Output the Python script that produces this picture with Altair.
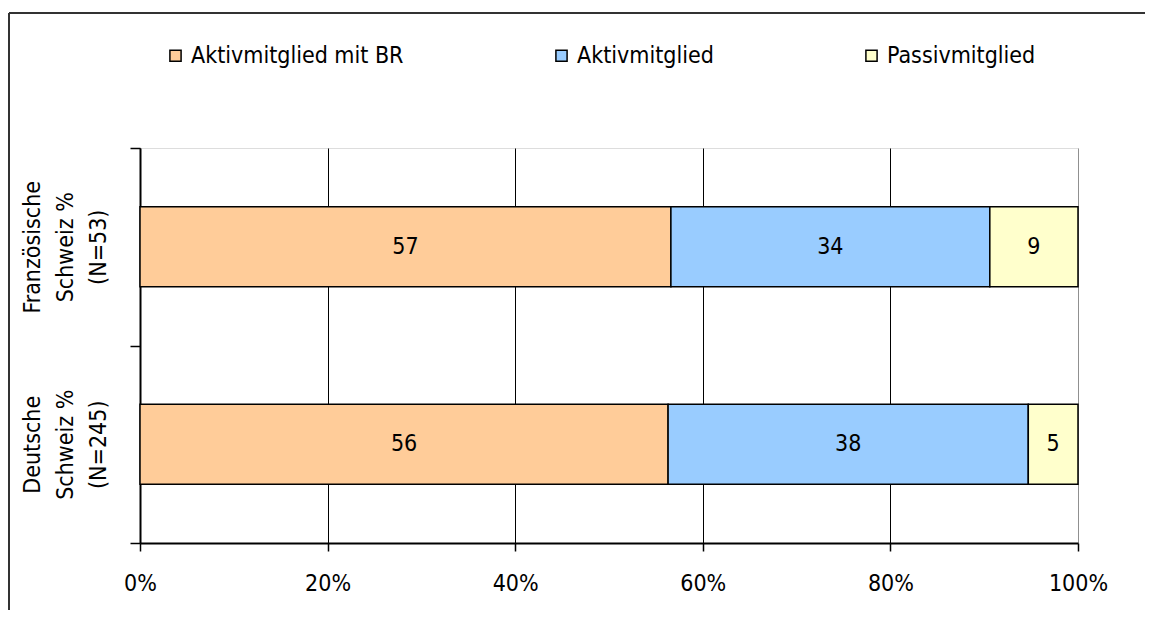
import altair as alt
import pandas as pd

series = ["Aktivmitglied mit BR", "Aktivmitglied", "Passivmitglied"]
colors = ["#FFCC99", "#99CCFF", "#FFFFCC"]
regions = ["Französische|Schweiz %|(N=53)", "Deutsche|Schweiz %|(N=245)"]
fr_values = [56.6, 34.0, 9.4]
de_values = [56.3, 38.4, 5.3]
x_ticks = [0, 0.2, 0.4, 0.6, 0.8, 1.0]

FONT = "DejaVu Sans Condensed"
FS = 23

rows = []
for reg, vals in zip(regions, [fr_values, de_values]):
    for i, (s, v) in enumerate(zip(series, vals)):
        rows.append({"region": reg, "series": s, "value": v, "order": i})
df = pd.DataFrame(rows)

base = alt.Chart(df)

bars = base.mark_bar(size=80, stroke="black", strokeWidth=1.5).encode(
    x=alt.X(
        "value:Q",
        stack="normalize",
        scale=alt.Scale(domain=[0, 1]),
        axis=alt.Axis(
            title=None,
            format="%",
            values=x_ticks,
            tickSize=8,
            tickColor="black",
            tickWidth=1.5,
            labelPadding=21,
            labelFontSize=FS,
            labelFont=FONT,
            labelColor="black",
            labelFlush=False,
            domainColor="black",
            domainWidth=2,
            grid=True,
            gridColor=alt.condition("datum.value == 1", alt.value("#909090"), alt.value("black")),
            gridWidth=1,
        ),
    ),
    y=alt.Y(
        "region:N",
        sort=regions,
        scale=alt.Scale(paddingInner=0, paddingOuter=0),
        axis=alt.Axis(
            title=None,
            labelExpr="split(datum.label, '|')",
            labelAngle=270,
            labelAlign="center",
            labelBaseline="bottom",
            labelLineHeight=33,
            labelFontSize=FS,
            labelFont=FONT,
            labelColor="black",
            labelPadding=86,
            labelLimit=0,
            tickSize=10,
            tickBand="extent",
            tickColor="black",
            tickWidth=1.5,
            domainColor="black",
            domainWidth=2,
            grid=False,
        ),
    ),
    color=alt.Color(
        "series:N",
        scale=alt.Scale(domain=series, range=colors),
        legend=alt.Legend(
            title=None,
            orient="none",
            legendX=24,
            legendY=-104,
            direction="horizontal",
            symbolType="square",
            symbolSize=125,
            symbolStrokeColor="black",
            symbolStrokeWidth=1.5,
            symbolOpacity=1,
            labelFontSize=FS,
            labelFont=FONT,
            labelColor="black",
            labelOffset=4,
            labelLimit=0,
            columnPadding=146,
        ),
    ),
    order=alt.Order("order:Q"),
)

labels = base.transform_stack(
    stack="value",
    groupby=["region"],
    as_=["s0", "s1"],
    offset="normalize",
    sort=[alt.SortField("order")],
).transform_calculate(mid="(datum.s0 + datum.s1) / 2").mark_text(
    font=FONT, fontSize=FS, color="black"
).encode(
    x=alt.X("mid:Q"),
    y=alt.Y("region:N", sort=regions),
    text=alt.Text("value:Q", format=".0f"),
)

frame_df = pd.DataFrame({"a": [0]})
frame_left = alt.Chart(frame_df).mark_rule(color="#333333", strokeWidth=2).encode(
    x=alt.value(-131), y=alt.value(-135), y2=alt.value(462)
)
frame_top = alt.Chart(frame_df).mark_rule(color="#333333", strokeWidth=2).encode(
    x=alt.value(-131), x2=alt.value(1005), y=alt.value(-135)
)

chart = alt.layer(bars, labels, frame_left, frame_top).properties(
    width=938,
    height=395,
    padding={"left": 0, "top": 4, "right": 0, "bottom": 0},
).configure_view(stroke="#909090", strokeWidth=1.5).configure(background="white")

chart.save("out.html", embed_options={"renderer": "svg", "actions": False})
